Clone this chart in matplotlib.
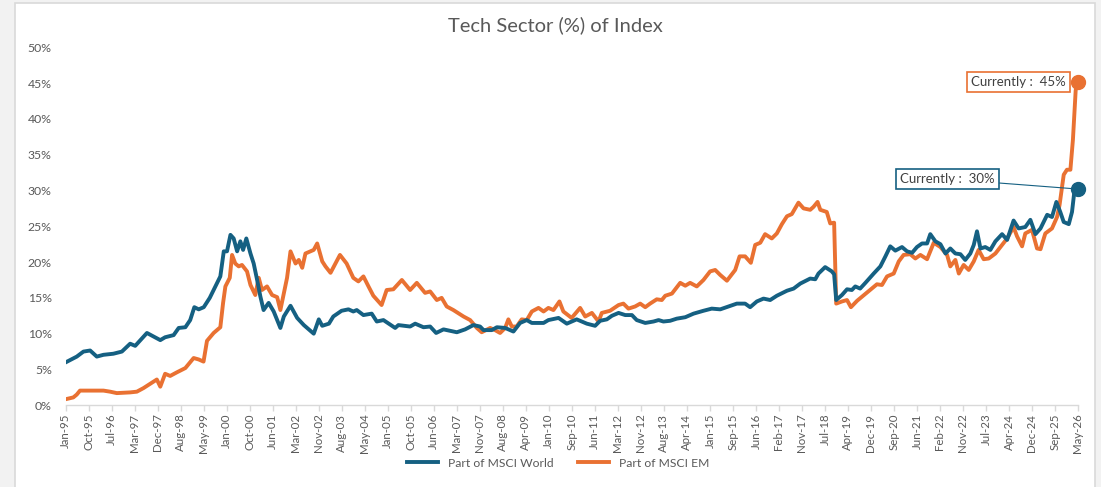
import matplotlib
matplotlib.use("Agg")
import matplotlib.pyplot as plt
from matplotlib.patches import Rectangle

plt.rcParams['font.family'] = ['Lato', 'DejaVu Sans']

# x positions are in "label steps" along the category axis (0 = Jan-95, 44 = May-26)
tick_labels = ['Jan-95', 'Oct-95', 'Jul-96', 'Mar-97', 'Dec-97', 'Aug-98', 'May-99', 'Jan-00',
               'Oct-00', 'Jun-01', 'Mar-02', 'Nov-02', 'Aug-03', 'May-04', 'Jan-05', 'Oct-05',
               'Jun-06', 'Mar-07', 'Nov-07', 'Aug-08', 'Apr-09', 'Jan-10', 'Sep-10', 'Jun-11',
               'Mar-12', 'Nov-12', 'Aug-13', 'Apr-14', 'Jan-15', 'Sep-15', 'Jun-16', 'Feb-17',
               'Nov-17', 'Jul-18', 'Apr-19', 'Dec-19', 'Sep-20', 'Jun-21', 'Feb-22', 'Nov-22',
               'Jul-23', 'Apr-24', 'Dec-24', 'Sep-25', 'May-26']

world_pos = [0.0, 0.48, 0.77, 1.06, 1.35, 1.64, 2.07, 2.44, 2.80, 3.02, 3.53, 4.11, 4.32, 4.69,
             4.91, 5.20, 5.41, 5.59, 5.78, 6.00, 6.26, 6.43, 6.58, 6.72, 6.87, 7.01, 7.16, 7.30,
             7.45, 7.59, 7.71, 7.85, 8.03, 8.17, 8.32, 8.46, 8.60, 8.82, 9.04, 9.33, 9.48, 9.77,
             10.06, 10.35, 10.78, 11.00, 11.15, 11.44, 11.63, 11.99, 12.29, 12.50, 12.65, 12.94,
             13.30, 13.52, 13.81, 14.32, 14.46, 14.97, 15.19, 15.55, 15.84, 16.10, 16.42, 17.00,
             17.36, 17.72, 18.01, 18.16, 18.52, 18.74, 19.10, 19.46, 19.75, 20.04, 20.26, 20.77,
             20.98, 21.42, 21.78, 22.21, 22.65, 23.01, 23.23, 23.52, 23.74, 24.03, 24.32, 24.61,
             24.82, 25.19, 25.55, 25.77, 25.98, 26.27, 26.56, 26.93, 27.29, 27.72, 28.08, 28.45,
             28.81, 29.17, 29.53, 29.75, 30.04, 30.33, 30.62, 30.91, 31.35, 31.64, 31.93, 32.36,
             32.58, 32.72, 33.01, 33.30, 33.40, 33.49, 33.74, 33.96, 34.17, 34.32, 34.53, 34.76,
             35.12, 35.41, 35.63, 35.84, 36.06, 36.35, 36.57, 36.79, 37.00, 37.22, 37.44, 37.58,
             37.80, 38.02, 38.24, 38.45, 38.67, 38.89, 39.10, 39.32, 39.47, 39.61, 39.76, 39.97,
             40.19, 40.41, 40.70, 40.92, 41.20, 41.42, 41.71, 41.93, 42.15, 42.37, 42.66, 42.87,
             43.06, 43.23, 43.38, 43.60, 43.74, 43.84, 44.0]
world_pct = [6.0, 6.8, 7.5, 7.65, 6.8, 7.05, 7.2, 7.5, 8.6, 8.3, 10.1, 9.1, 9.5, 9.8,
             10.8, 10.9, 11.9, 13.7, 13.4, 13.7, 15.0, 16.1, 17.1, 18.0, 21.5, 21.5, 23.8, 23.3,
             21.5, 22.9, 21.7, 23.3, 21.2, 19.8, 17.5, 15.2, 13.3, 14.3, 13.1, 10.8, 12.4, 13.9,
             12.2, 11.2, 10.0, 12.0, 11.1, 11.4, 12.4, 13.2, 13.4, 13.1, 13.3, 12.6,
             12.8, 11.7, 11.9, 10.8, 11.2, 11.0, 11.4, 10.9, 11.0, 10.1, 10.6, 10.2,
             10.6, 11.2, 11.0, 10.5, 10.5, 10.9, 10.8, 10.3, 11.5, 11.9, 11.5, 11.5,
             11.9, 12.2, 11.4, 12.0, 11.4, 11.1, 11.8, 12.0, 12.5, 12.9, 12.6, 12.6,
             11.9, 11.5, 11.7, 11.9, 11.7, 11.8, 12.1, 12.3, 12.8, 13.2, 13.5, 13.4,
             13.8, 14.2, 14.2, 13.7, 14.5, 14.9, 14.7, 15.3, 16.0, 16.3, 17.0, 17.7,
             17.6, 18.4, 19.3, 18.7, 18.3, 14.7, 15.4, 16.2, 16.1, 16.6, 16.3, 17.1,
             18.4, 19.4, 20.8, 22.2, 21.6, 22.1, 21.5, 21.3, 22.1, 22.6, 22.6, 23.9,
             22.9, 22.5, 21.2, 21.9, 21.2, 21.1, 20.3, 21.2, 22.4, 24.3, 21.9, 22.1,
             21.7, 22.9, 23.9, 23.1, 25.8, 24.7, 24.9, 25.9, 23.9, 24.7, 26.6, 26.3,
             28.4, 27.0, 25.6, 25.3, 27.0, 29.8, 30.2]

em_pos = [0.0, 0.33, 0.48, 0.62, 1.06, 1.64, 1.93, 2.22, 2.80, 3.09, 3.38, 3.67, 3.96, 4.11,
          4.32, 4.54, 4.83, 5.20, 5.56, 5.78, 5.99, 6.14, 6.43, 6.72, 6.84, 6.94, 7.13, 7.23,
          7.37, 7.52, 7.66, 7.88, 8.03, 8.24, 8.39, 8.53, 8.75, 8.97, 9.19, 9.33, 9.62, 9.77,
          9.99, 10.13, 10.28, 10.42, 10.78, 10.93, 11.15, 11.29, 11.51, 11.92, 12.21, 12.50,
          12.72, 12.94, 13.16, 13.37, 13.73, 13.95, 14.24, 14.61, 14.97, 15.26, 15.62, 15.84,
          16.13, 16.34, 16.56, 16.85, 17.29, 17.58, 17.87, 18.08, 18.45, 18.66, 18.88, 19.10,
          19.24, 19.39, 19.60, 19.82, 20.04, 20.26, 20.55, 20.77, 20.98, 21.20, 21.46, 21.63,
          21.99, 22.36, 22.58, 22.87, 23.16, 23.30, 23.66, 24.03, 24.24, 24.46, 24.75, 24.97,
          25.19, 25.40, 25.69, 25.91, 26.06, 26.35, 26.71, 26.93, 27.14, 27.43, 27.72, 28.01,
          28.23, 28.45, 28.74, 29.10, 29.29, 29.53, 29.78, 29.97, 30.19, 30.40, 30.69, 30.91,
          31.13, 31.35, 31.56, 31.85, 32.07, 32.36, 32.50, 32.68, 32.80, 33.08, 33.23, 33.40,
          33.49, 33.74, 33.96, 34.13, 34.40, 34.70, 34.97, 35.26, 35.48, 35.70, 35.99, 36.21,
          36.42, 36.71, 36.93, 37.15, 37.44, 37.73, 38.02, 38.31, 38.45, 38.67, 38.82, 39.03,
          39.25, 39.47, 39.68, 39.90, 40.12, 40.41, 40.70, 40.92, 41.20, 41.35, 41.57, 41.71,
          42.00, 42.22, 42.37, 42.58, 42.87, 43.09, 43.20, 43.38, 43.52, 43.67, 43.78, 43.90,
          44.0]
em_pct = [0.85, 1.1, 1.5, 2.05, 2.05, 2.05, 1.9, 1.7, 1.8, 1.9, 2.4, 3.0, 3.6, 2.6,
          4.4, 4.1, 4.6, 5.2, 6.6, 6.4, 6.1, 9.0, 10.1, 10.9, 14.3, 16.6, 17.8, 21.0,
          19.8, 19.4, 19.6, 18.7, 16.8, 15.4, 17.8, 16.1, 16.6, 15.4, 15.1, 13.3, 17.8, 21.5,
          19.8, 20.3, 19.2, 21.2, 21.7, 22.6, 20.1, 19.4, 18.5, 21.0, 19.8, 17.8,
          17.3, 18.0, 16.6, 15.3, 14.0, 16.1, 16.2, 17.5, 16.1, 17.1, 15.7, 15.9,
          14.7, 15.0, 13.8, 13.3, 12.4, 11.9, 10.8, 10.2, 10.8, 10.5, 10.1, 10.8,
          12.0, 11.0, 11.0, 12.0, 11.9, 13.1, 13.6, 13.1, 13.6, 13.3, 14.5, 13.1,
          12.2, 13.6, 12.4, 12.9, 11.7, 12.9, 13.2, 14.0, 14.2, 13.5, 13.8, 14.2,
          13.7, 14.2, 14.8, 14.7, 15.3, 15.6, 17.1, 16.7, 17.1, 16.6, 17.5, 18.7,
          18.9, 18.2, 17.4, 18.9, 20.8, 20.8, 19.9, 22.4, 22.7, 23.9, 23.3, 24.0,
          25.3, 26.4, 26.7, 28.3, 27.5, 27.3, 27.7, 28.4, 27.3, 27.0, 25.4, 25.5,
          14.2, 14.5, 14.7, 13.7, 14.6, 15.4, 16.1, 16.9, 16.8, 18.0, 18.4, 20.1,
          21.0, 21.1, 20.5, 21.0, 20.4, 22.7, 22.1, 21.0, 19.4, 20.3, 18.4, 19.6,
          18.9, 20.1, 21.7, 20.4, 20.5, 21.2, 22.4, 23.3, 24.9, 23.6, 22.2, 24.0,
          24.5, 21.9, 21.8, 24.0, 24.7, 26.3, 28.0, 32.2, 32.9, 32.9, 37.1, 44.0,
          45.1]

blue = '#156082'
orange = '#E97132'
grey_txt = '#595959'

fig = plt.figure(figsize=(11.01, 4.87), dpi=100, facecolor='#f2f2f2')
# white chart area with thin grey frame, behind the axes
fig.patches.append(Rectangle((15 / 1101, -0.01), 1080 / 1101, 1.0 - 3 / 487 + 0.01,
                             transform=fig.transFigure, facecolor='white',
                             edgecolor='#d9d9d9', linewidth=1.2, zorder=-10))

ax = fig.add_axes([0.0597, 0.1678, 0.9194, 0.7351])
ax.set_facecolor('none')

ax.plot(world_pos, world_pct, color=blue, lw=2.8, solid_joinstyle='round',
        label='Part of MSCI World', zorder=3)
ax.plot(em_pos, em_pct, color=orange, lw=2.8, solid_joinstyle='round',
        label='Part of MSCI EM', zorder=2)

# end-point markers
ax.plot(world_pos[-1], world_pct[-1], 'o', color=blue, ms=10, clip_on=False, zorder=4)
ax.plot(em_pos[-1], em_pct[-1], 'o', color=orange, ms=10, clip_on=False, zorder=4)

ax.annotate('Currently :  45%', xy=(em_pos[-1], em_pct[-1]), xytext=(-43, 0),
            textcoords='offset points', ha='center', va='center', fontsize=9.5,
            color='#404040',
            bbox=dict(boxstyle='square,pad=0.3', fc='white', ec=orange, lw=1.2))
ax.annotate('Currently :  30%', xy=(world_pos[-1], world_pct[-1]), xytext=(-94, 7.2),
            textcoords='offset points', ha='center', va='center', fontsize=9.5,
            color='#404040',
            bbox=dict(boxstyle='square,pad=0.3', fc='white', ec=blue, lw=1.2),
            arrowprops=dict(arrowstyle='-', color=blue, lw=0.8, shrinkA=0, shrinkB=3))

ax.set_xlim(0, 44)
ax.set_ylim(0, 50)
ax.set_xticks(range(len(tick_labels)))
ax.set_xticklabels(tick_labels, rotation=90, fontsize=8.3, color=grey_txt)
ax.set_yticks(range(0, 51, 5))
ax.set_yticklabels([f'{v}%' for v in range(0, 51, 5)], fontsize=8.8, color=grey_txt)
ax.tick_params(axis='y', length=0, pad=10)
ax.tick_params(axis='x', length=4, color='#d9d9d9', width=1, pad=2)
for s in ['top', 'right', 'left']:
    ax.spines[s].set_visible(False)
ax.spines['bottom'].set_color('#d9d9d9')
ax.spines['bottom'].set_linewidth(1)

fig.text(0.504, 0.948, 'Tech Sector (%) of Index', ha='center', va='center',
         fontsize=14.5, color=grey_txt)

handles, labels = ax.get_legend_handles_labels()
fig.legend(handles, labels, loc='center', bbox_to_anchor=(0.507, 0.049), ncol=2,
           frameon=False, fontsize=8.7, handlelength=2.6, columnspacing=2.0,
           labelcolor=grey_txt)

fig.savefig('out.png', dpi=100, facecolor=fig.get_facecolor())
